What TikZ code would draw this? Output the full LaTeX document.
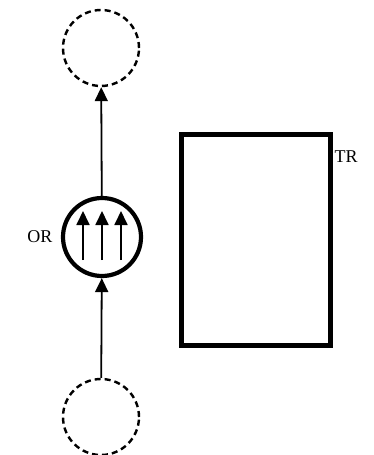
\documentclass[tikz,border=0pt]{standalone}
\usepackage{fontspec}
\setmainfont{Liberation Serif}
\usetikzlibrary{arrows.meta}
\begin{document}
\begin{tikzpicture}[x=1pt,y=-1pt,
  ghost/.style={circle,draw,line width=2.4pt,dash pattern=on 6pt off 4pt,minimum size=76pt,inner sep=0pt},
  source/.style={circle,draw,line width=4.2pt,minimum size=78pt,inner sep=0pt},
  link/.style={line width=1.8pt,-{Triangle[length=14pt,width=13pt]}},
  lbl/.style={font=\fontsize{18}{20}\selectfont}]
  \useasboundingbox (0,0) rectangle (374,455);
  \node[ghost] (top) at (101,48) {};
  \node[source] (or) at (102,237) {};
  \node[ghost] (bot) at (101,417) {};
  \draw[line width=5pt] (181.5,134.5) rectangle (330.5,345.5);
  \node[lbl] (trl) at (346,157) {TR};
  \node[lbl] (orl) at (40,237) {OR};
  \draw[link] (or) -- (top);
  \draw[link] (bot) -- (or);
  % three upward arrows inside the source
  \foreach \i/\x in {1/83,2/102,3/121}{
    \coordinate (s\i) at (\x,260);
    \coordinate (e\i) at (\x,211);
    \draw[link] (s\i) -- (e\i);
  }
\end{tikzpicture}
\end{document}
